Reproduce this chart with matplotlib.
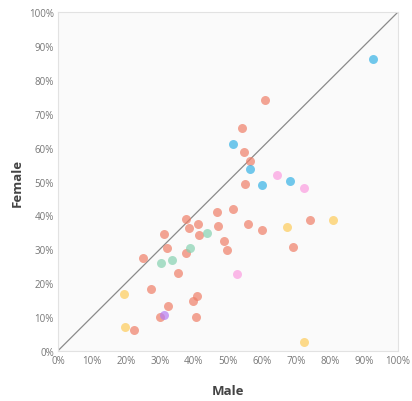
import matplotlib
matplotlib.use('Agg')
import matplotlib.pyplot as plt
from matplotlib.ticker import PercentFormatter

# male / female shares (%) per group
salmon_male = [60.9, 54.1, 54.7, 56.5, 55.0, 46.7, 51.5, 37.7, 41.1, 38.5, 47.0, 55.9, 41.4, 48.8,
               49.8, 60.0, 74.1, 69.1, 31.1, 32.1, 37.6, 24.9, 35.3, 27.3, 40.8, 39.8, 32.3, 30.0,
               40.6, 22.3]
salmon_female = [74.1, 65.8, 58.7, 56.1, 49.3, 41.0, 41.9, 38.9, 37.4, 36.3, 36.8, 37.4, 34.2, 32.4,
                 29.8, 35.7, 38.6, 30.6, 34.6, 30.3, 28.8, 27.4, 23.0, 18.2, 16.2, 14.7, 13.2, 9.9,
                 9.9, 6.1]
blue_male = [92.8, 51.5, 56.5, 60.0, 68.2]
blue_female = [86.2, 61.1, 53.7, 49.0, 50.1]
green_male = [43.8, 38.8, 33.5, 30.2]
green_female = [34.8, 30.3, 26.8, 25.9]
yellow_male = [67.4, 80.9, 72.4, 19.4, 19.6]
yellow_female = [36.6, 38.6, 2.6, 16.8, 7.0]
pink_male = [64.4, 72.4, 52.6]
pink_female = [51.9, 48.1, 22.7]
purple_male = [31.2]
purple_female = [10.5]

groups = [
    (salmon_male, salmon_female, '#ef7f68'),
    (blue_male, blue_female, '#36b2e6'),
    (green_male, green_female, '#86d2b0'),
    (yellow_male, yellow_female, '#fdcb5a'),
    (pink_male, pink_female, '#fb9de0'),
    (purple_male, purple_female, '#b57cf2'),
]

plt.rcParams['font.family'] = ['Open Sans', 'DejaVu Sans']

fig = plt.figure(figsize=(4.12, 4.02), dpi=100)
fig.patch.set_facecolor('#ffffff')
ax = fig.add_axes([0.1408, 0.1251, 0.8245, 0.8418])
ax.set_facecolor('#fafafa')

ax.plot([0, 100], [0, 100], color='#8a8a8a', lw=0.9, zorder=1)
for xs, ys, c in groups:
    ax.scatter(xs, ys, s=42, color=c, alpha=0.7, linewidths=0, zorder=2)

ax.set_xlim(0, 100)
ax.set_ylim(0, 100)
ticks = list(range(0, 101, 10))
ax.set_xticks(ticks)
ax.set_yticks(ticks)
ax.xaxis.set_major_formatter(PercentFormatter(decimals=0))
ax.yaxis.set_major_formatter(PercentFormatter(decimals=0))
ax.tick_params(length=0, labelsize=7, colors='#777777', pad=3)
for s in ax.spines.values():
    s.set_color('#e2e2e2')
    s.set_linewidth(0.8)

ax.set_xlabel('Male', fontsize=9.5, fontweight='bold', color='#444444', labelpad=13)
ax.set_ylabel('Female', fontsize=9.5, fontweight='bold', color='#444444', labelpad=4)

fig.savefig('out.png', dpi=100)
